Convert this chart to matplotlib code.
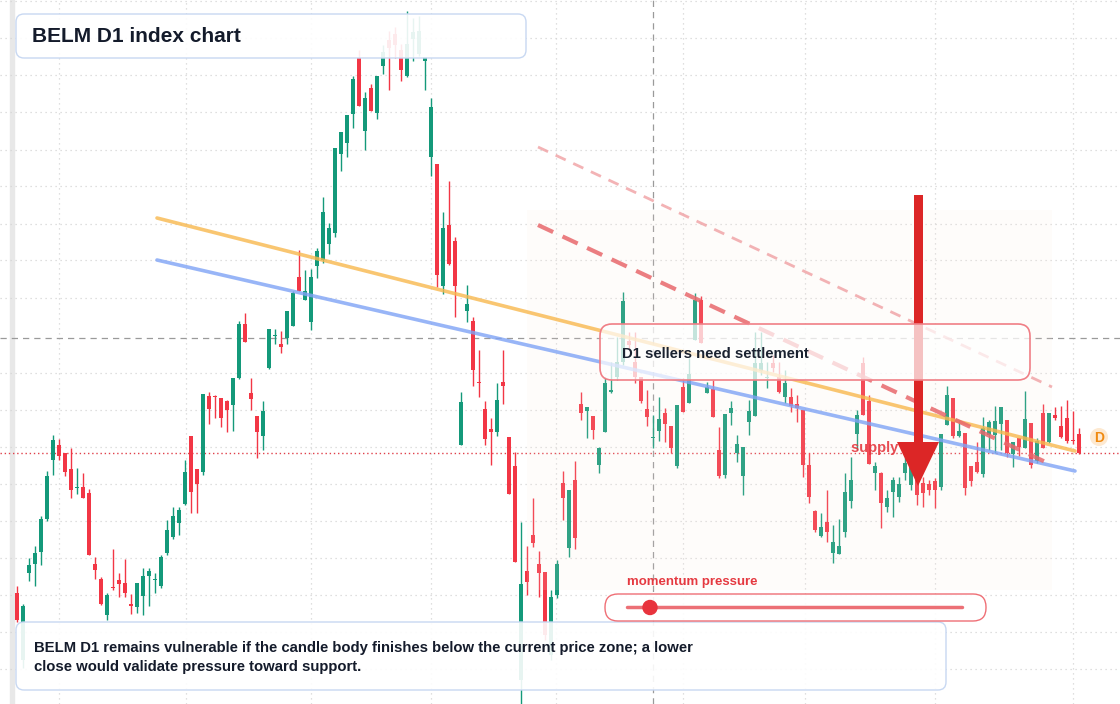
import matplotlib
matplotlib.use("Agg")
import matplotlib.pyplot as plt
from matplotlib.patches import FancyBboxPatch, Rectangle, Polygon, Circle
import numpy as np

plt.rcParams['font.family'] = ['Liberation Sans', 'DejaVu Sans']

# OHLC readings (screen-level units, larger = lower on chart)
opens = [593,660,573,564,552,519,460,445,453,469,488,487,493,564,579,615,587,580,583,604,
         607,596,576,580,586,553,537,523,504,436,469,472,396,396,398,401,405,378,324,393,
         416,436,368,336,344,338,326,277,300,322,266,260,244,233,154,143,114,58,131,88,
         113,66,40,34,50,76,39,54,61,157,164,286,225,241,445,311,321,382,409,429,
         432,382,437,466,680,571,535,564,572,655,595,483,548,480,404,411,416,465,432,392,
         377,362,341,362,377,409,438,431,413,426,466,387,403,340,300,393,389,450,475,413,
         453,476,422,416,371,378,363,377,397,397,404,410,465,511,536,522,553,554,532,501,
         434,363,401,473,473,507,492,497,473,485,480,483,484,481,487,425,398,436,433,466,
         462,474,435,435,424,420,454,438,448,423,461,413,442,415,426,418,440,434]
closes = [620,606,565,553,519,476,440,456,472,490,487,498,555,570,604,595,588,584,593,606,
          583,576,571,579,557,530,516,510,472,492,484,394,409,397,418,410,378,324,342,399,
          432,411,329,335,347,311,293,291,291,277,251,212,228,148,132,115,79,106,98,111,
          76,52,48,45,70,44,32,31,57,107,275,228,264,286,402,304,370,383,439,432,
          400,386,494,562,584,582,543,573,635,597,564,498,490,538,413,407,430,448,383,390,
          362,301,345,377,401,417,437,419,424,448,405,412,374,300,343,387,417,476,414,408,
          444,447,411,363,363,377,368,392,383,406,408,465,497,530,527,532,542,546,492,480,
          415,415,464,466,503,498,480,484,463,458,495,493,490,490,434,395,436,431,488,481,
          472,428,422,421,407,453,442,447,419,465,441,448,413,418,437,441,441,453]
highs = [586,604,558,546,516,471,435,439,453,448,468,473,489,557,577,593,549,573,559,594,
         583,568,568,573,555,520,507,507,460,436,469,394,392,395,398,400,378,321,313,378,
         416,401,329,329,331,311,291,250,270,269,248,197,223,148,132,115,76,50,92,84,
         76,45,31,27,44,11,18,16,57,98,164,212,181,237,392,285,317,350,401,418,
         383,350,437,452,522,546,498,551,572,590,560,471,490,461,392,407,416,447,377,362,
         337,292,332,332,377,390,415,397,408,426,405,378,358,293,296,382,380,427,414,401,
         435,447,400,332,332,362,355,362,370,388,395,410,453,510,513,490,525,519,473,457,
         410,357,395,462,472,490,477,477,457,450,475,477,480,478,434,386,398,420,433,466,
         442,417,420,406,407,420,442,438,391,423,438,404,413,407,406,400,411,428]
lows = [622,668,581,586,565,521,475,460,476,498,494,498,555,579,605,620,590,597,597,614,
        613,615,606,593,588,555,539,535,505,513,513,475,424,418,427,432,431,379,342,410,
        458,450,369,344,353,344,326,291,300,330,278,263,254,237,171,157,128,106,150,111,
        119,74,90,58,81,77,61,56,90,176,287,294,265,317,445,322,386,397,445,465,
        436,404,494,562,704,595,547,597,640,660,598,520,557,549,420,438,439,473,432,393,
        380,365,350,383,403,426,448,441,442,453,468,412,403,340,343,393,417,478,478,425,
        462,495,435,416,375,388,372,393,403,412,422,477,503,532,537,542,563,554,537,508,
        450,415,464,490,528,512,517,502,480,490,505,507,495,508,490,425,438,437,495,486,
        473,477,450,453,450,457,467,456,448,468,463,448,443,420,438,443,444,454]

GREEN = '#14997a'
RED = '#f23645'

fig = plt.figure(figsize=(11.2, 7.04), dpi=100)
ax = fig.add_axes([0, 0, 1, 1])
n = len(opens)
idx = np.arange(n)
ax.set_xlim(-17/6, 1103/6)
ax.set_ylim(704, 0)
ax.axis('off')

o = np.array(opens); c = np.array(closes); h = np.array(highs); l = np.array(lows)
cols = [GREEN if cc <= oo else RED for oo, cc in zip(o, c)]
ax.vlines(idx, h, l, colors=cols, linewidth=1, zorder=2)
top = np.minimum(o, c); bot = np.maximum(o, c)
ax.bar(idx, np.maximum(bot - top, 1.2), bottom=top, width=0.8, color=cols, zorder=3)

# pixel-space overlay
ov = fig.add_axes([0, 0, 1, 1], facecolor='none')
ov.set_xlim(0, 1120); ov.set_ylim(704, 0); ov.axis('off')

# background, grid
ax.add_patch(Rectangle(((10 - 17) / 6, 0), 4/6, 704, color='#e8e8e8', zorder=0))
for gx in [59, 186, 311, 431, 556, 683, 805, 935, 1073]:
    ax.axvline((gx - 17) / 6, color='#d5d5d5', ls=(0, (1, 3)), lw=0.9, zorder=0)
for gy in [1, 38, 75, 112, 150, 186, 224, 260, 298, 373, 410, 447, 484, 521, 558, 595, 632, 669]:
    ax.axhline(gy, color='#d5d5d5', ls=(0, (1, 3)), lw=0.9, zorder=0)
ax.axhline(338, color='#9a9a9a', ls=(0, (5, 4)), lw=0.9, zorder=1)
ax.axvline((653 - 17) / 6, color='#9a9a9a', ls=(0, (5, 4)), lw=0.9, zorder=1)
ax.axhline(453, color='#e0404a', ls=(0, (1, 2)), lw=1.0, zorder=1)

ov.add_patch(Rectangle((527, 210), 525, 380, color='#fbe9dc', alpha=0.12, lw=0, zorder=0))
ov.plot([157, 1075], [218, 451], color='#f8b84e', lw=2.6, alpha=0.8, solid_capstyle='round')
ov.plot([157, 1075], [260, 471], color='#7fa3f5', lw=2.6, alpha=0.8, solid_capstyle='round')
ov.plot([538, 1052], [225, 465], color='#e8686c', lw=3, alpha=0.85, ls=(0, (4, 2.5)))
ov.plot([538, 1052], [147, 387], color='#f0a0a3', lw=2, alpha=0.8, ls=(0, (4, 3)))

ov.text(851, 448, 'supply zone', color='#e53940', fontsize=10.5, fontweight='bold',
        va='center', ha='left', alpha=0.9)
ov.add_patch(Rectangle((913.5, 195), 9, 250, color='#dc2626', lw=0, zorder=5))
ov.add_patch(Polygon([[897, 442], [939, 442], [918, 486]], closed=True, color='#dc2626', lw=0, zorder=5))

ov.add_patch(Circle((1099, 437), 9, color='#fde7cc', lw=0, alpha=0.9))
ov.text(1099, 438, 'D', color='#f08a10', fontsize=10, fontweight='bold', ha='center', va='center')

def box(x0, y0, x1, y1, ec, alpha=0.88, lw=1.0, r=8):
    p = FancyBboxPatch((x0, y0), x1 - x0, y1 - y0, boxstyle=f"round,pad=0,rounding_size={r}",
                       ec=ec, lw=lw, zorder=6)
    p.set_facecolor((1, 1, 1, alpha))
    ov.add_patch(p)

box(600, 324, 1030, 380, ec='#f07f86', alpha=0.72, lw=1.2, r=12)
ov.text(622, 354, 'D1 sellers need settlement', fontsize=10.7, fontweight='bold',
        color='#1a2230', va='center', zorder=7)

box(16, 14, 526, 58, ec='#c8d8f2', alpha=0.9, lw=1.0, r=8)
ov.text(32, 36, 'BELM D1 index chart', fontsize=15, fontweight='bold', color='#141b2b',
        va='center', zorder=7)

box(16, 622, 946, 690, ec='#c8d8f2', alpha=0.9, lw=1.0, r=8)
ov.text(34, 648, 'BELM D1 remains vulnerable if the candle body finishes below the current price zone; a lower',
        fontsize=10.75, fontweight='bold', color='#141b2b', va='center', zorder=7)
ov.text(34, 667, 'close would validate pressure toward support.',
        fontsize=10.75, fontweight='bold', color='#141b2b', va='center', zorder=7)

ov.text(627, 582, 'momentum pressure', fontsize=9.5, fontweight='bold', color='#e53940',
        va='center', zorder=7)
box(605, 594, 986, 621, ec='#ef6f76', alpha=0.9, lw=1.0, r=13)
ov.plot([627, 962], [607, 607], color='#ec7076', lw=2.5, zorder=8, solid_capstyle='round')
ov.add_patch(Circle((650, 607.5), 7, color='#e8333d', zorder=9))

fig.savefig('out.png', dpi=100)
